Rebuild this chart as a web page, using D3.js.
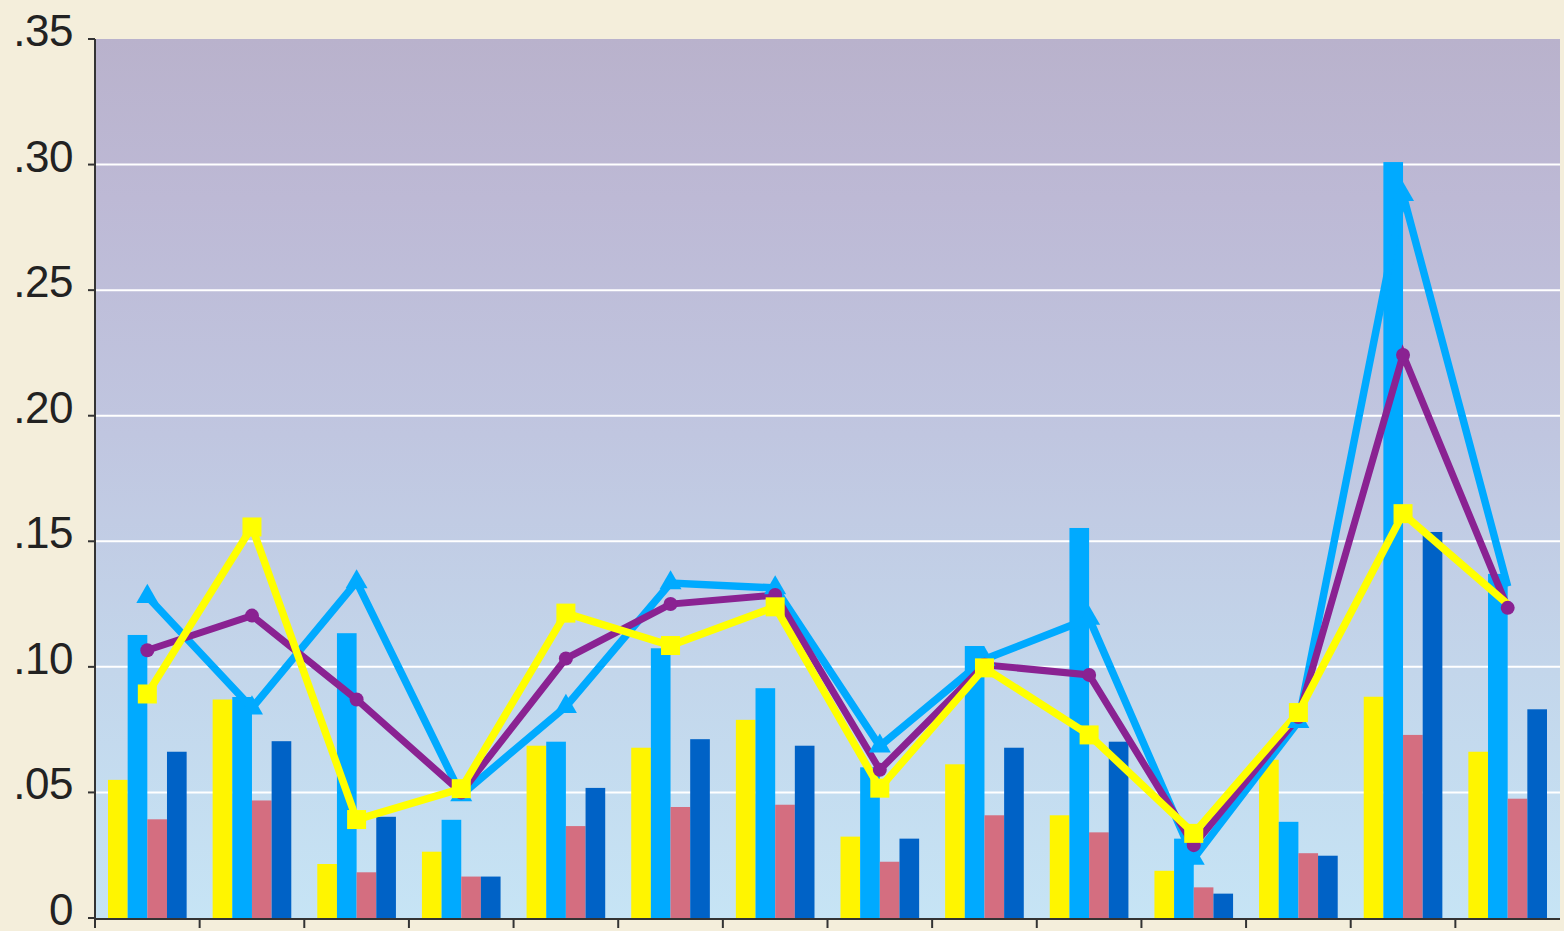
<!DOCTYPE html>
<html>
<head>
<meta charset="utf-8">
<script src="https://cdn.jsdelivr.net/npm/d3@7"></script>
<style>
  html, body { margin: 0; padding: 0; background: #f4eedb; }
  svg { display: block; }
  .tick-label { font-family: "Liberation Sans", Arial, sans-serif; font-size: 44px; fill: #222; letter-spacing: -0.5px; }
</style>
</head>
<body>
<svg id="chart" width="1564" height="931"></svg>
<script>
// Groups along the horizontal axis (unlabelled)
const categories = ["1", "2", "3", "4", "5", "6", "7", "8", "9", "10", "11", "12", "13", "14"];

// Bar series
const yellowBars    = [0.055, 0.087, 0.0215, 0.0264, 0.0686, 0.0678, 0.0789, 0.0324, 0.0612, 0.0409, 0.0188, 0.063, 0.0881, 0.0662];
const lightBlueBars = [0.1127, 0.088, 0.1134, 0.0391, 0.0702, 0.1074, 0.0915, 0.060, 0.1083, 0.1553, 0.0316, 0.0383, 0.301, 0.137];
const pinkBars      = [0.0393, 0.0468, 0.0182, 0.0165, 0.0366, 0.0442, 0.0451, 0.0224, 0.0409, 0.0341, 0.0122, 0.0258, 0.0729, 0.0475];
const darkBlueBars  = [0.0662, 0.0704, 0.0403, 0.0165, 0.0518, 0.0712, 0.0686, 0.0316, 0.0678, 0.0702, 0.0097, 0.0248, 0.1537, 0.0831];

// Line series
const purpleLine = [0.1066, 0.1204, 0.087, 0.050, 0.1033, 0.125, 0.1286, 0.059, 0.1008, 0.0968, 0.029, 0.080, 0.2242, 0.1235];
const blueLine   = [0.128, 0.0836, 0.1338, 0.049, 0.0842, 0.1334, 0.1314, 0.0684, 0.1030, 0.1193, 0.0237, 0.0782, 0.2880, 0.132];
const yellowLine = [0.0892, 0.1557, 0.0392, 0.0515, 0.1214, 0.1085, 0.1239, 0.0517, 0.0996, 0.0729, 0.0337, 0.0818, 0.161, 0.125];

// Axis ticks
const yTicks = [0, 0.05, 0.10, 0.15, 0.20, 0.25, 0.30, 0.35];
const yTickLabels = ["0", ".05", ".10", ".15", ".20", ".25", ".30", ".35"];

const svg = d3.select("#chart");
const margin = { left: 95, right: 4, top: 39, bottom: 13 };
const width = 1564, height = 931;
const x0 = margin.left, x1 = width - margin.right;
const y0 = height - margin.bottom, y1 = margin.top;

const x = d3.scaleBand().domain(categories).range([x0, x1]).paddingInner(0).paddingOuter(0);
const y = d3.scaleLinear().domain([0, 0.35]).range([y0, y1]);

const barSeries = [
  { key: "yellow", values: yellowBars, color: "#fff500" },
  { key: "lightBlue", values: lightBlueBars, color: "#00aaff" },
  { key: "pink", values: pinkBars, color: "#d46e80" },
  { key: "darkBlue", values: darkBlueBars, color: "#0062c6" }
];
const groupPad = 13;
const xInner = d3.scaleBand().domain(barSeries.map(s => s.key))
  .range([groupPad, x.bandwidth() - groupPad]).padding(0);

// Plot background gradient
const defs = svg.append("defs");
const grad = defs.append("linearGradient").attr("id", "bg").attr("x1", 0).attr("x2", 0).attr("y1", 0).attr("y2", 1);
[["0%", "#b9b2cc"], ["18%", "#bdb9d5"], ["45%", "#c0c6e0"], ["72%", "#c3d6eb"], ["100%", "#c6e4f5"]]
  .forEach(([o, c]) => grad.append("stop").attr("offset", o).attr("stop-color", c));

svg.append("rect").attr("x", x0).attr("y", y1).attr("width", x1 - x0).attr("height", y0 - y1)
  .attr("fill", "url(#bg)");

// Horizontal grid lines
svg.append("g").selectAll("line").data(yTicks.filter(t => t > 0 && t < 0.35)).join("line")
  .attr("x1", x0).attr("x2", x1)
  .attr("y1", d => y(d)).attr("y2", d => y(d))
  .attr("stroke", "#ffffff").attr("stroke-width", 2);

// Bars
const groups = svg.append("g").selectAll("g").data(categories).join("g")
  .attr("transform", d => `translate(${x(d)},0)`);
groups.selectAll("rect").data((d, i) => barSeries.map(s => ({ key: s.key, color: s.color, v: s.values[i] })))
  .join("rect")
  .attr("x", d => xInner(d.key))
  .attr("width", xInner.bandwidth())
  .attr("y", d => y(d.v))
  .attr("height", d => y(0) - y(d.v))
  .attr("fill", d => d.color);

// Lines with markers
const cx = (d, i) => x(categories[i]) + x.bandwidth() / 2;
const lineGen = d3.line().x((d, i) => cx(d, i)).y(d => y(d));

function drawLine(values, color, widthPx) {
  svg.append("path").datum(values)
    .attr("d", lineGen).attr("fill", "none")
    .attr("stroke", color).attr("stroke-width", widthPx)
    .attr("stroke-linejoin", "miter");
}

drawLine(blueLine, "#00aaff", 7.5);
drawLine(purpleLine, "#8a2292", 7);
drawLine(yellowLine, "#ffff00", 7.5);

const lastIdx = categories.length - 1;
// Triangles on the light blue line
svg.append("g").selectAll("path").data(blueLine.slice(0, lastIdx)).join("path")
  .attr("d", d3.symbol().type(d3.symbolTriangle).size(210))
  .attr("transform", (d, i) => `translate(${cx(d, i)},${y(d)})`)
  .attr("fill", "#00aaff");

// Circles on the purple line
svg.append("g").selectAll("circle").data(purpleLine).join("circle")
  .attr("cx", (d, i) => cx(d, i)).attr("cy", d => y(d)).attr("r", 7)
  .attr("fill", "#8a2292");

// Squares on the yellow line
svg.append("g").selectAll("rect").data(yellowLine.slice(0, lastIdx)).join("rect")
  .attr("x", (d, i) => cx(d, i) - 9.5).attr("y", d => y(d) - 9.5)
  .attr("width", 19).attr("height", 19)
  .attr("fill", "#ffff00");

// Left axis
const axisColor = "#333";
svg.append("line").attr("x1", x0).attr("x2", x0).attr("y1", y1).attr("y2", y0 + 1)
  .attr("stroke", axisColor).attr("stroke-width", 2);
svg.append("g").selectAll("line").data(yTicks).join("line")
  .attr("x1", x0 - 7).attr("x2", x0)
  .attr("y1", d => y(d)).attr("y2", d => y(d))
  .attr("stroke", axisColor).attr("stroke-width", 2);
svg.append("g").selectAll("text").data(yTicks).join("text")
  .attr("class", "tick-label")
  .attr("x", 73).attr("y", d => y(d) + 7)
  .attr("text-anchor", "end")
  .text((d, i) => yTickLabels[i]);

// Bottom axis
svg.append("line").attr("x1", x0 - 1).attr("x2", x1).attr("y1", y0 + 1).attr("y2", y0 + 1)
  .attr("stroke", axisColor).attr("stroke-width", 2);
svg.append("g").selectAll("line").data(categories).join("line")
  .attr("x1", d => x(d)).attr("x2", d => x(d))
  .attr("y1", y0 + 1).attr("y2", y0 + 10)
  .attr("stroke", axisColor).attr("stroke-width", 2);
</script>
</body>
</html>
